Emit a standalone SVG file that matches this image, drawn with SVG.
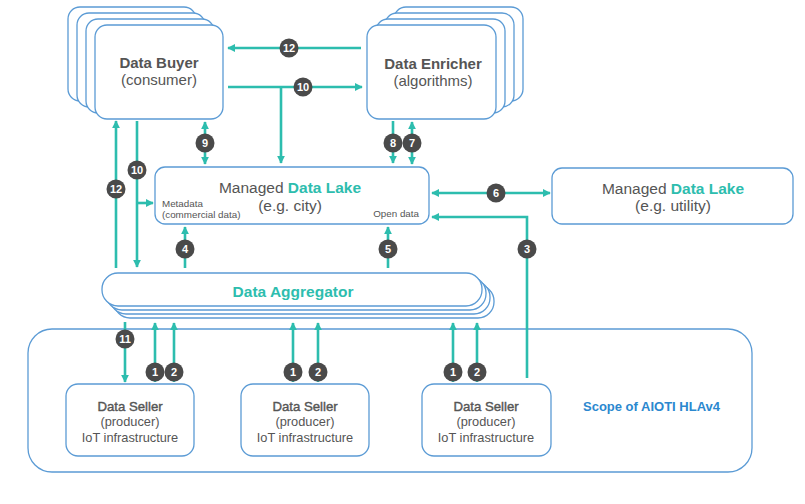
<svg xmlns="http://www.w3.org/2000/svg" width="805" height="504" viewBox="0 0 805 504">
<defs>
<marker id="ah" viewBox="0 0 10 10" refX="9" refY="5" markerWidth="8" markerHeight="8" markerUnits="userSpaceOnUse" orient="auto-start-reverse"><path d="M0,0 L10,5 L0,10 z" fill="#2dbdae"/></marker>
<style>
.box{fill:#fff;stroke:#5b9bd5;stroke-width:1.3}
.ln{fill:none;stroke:#2dbdae;stroke-width:2.6}
.t{font-family:"Liberation Sans",Arial,sans-serif;fill:#555;text-anchor:middle}
.b{font-weight:bold}
.sb{stroke:#555;stroke-width:0.4}
.tl{fill:#2dbdae;font-weight:bold}
.c{fill:#4a4a4a}
.ct{font-family:"Liberation Sans",Arial,sans-serif;fill:#fff;font-size:11px;font-weight:bold;text-anchor:middle}
</style>
</defs>
<rect width="805" height="504" fill="#fff"/>

<g id="scope">
<rect class="box" x="28" y="329" width="724" height="143" rx="24"/>
<text x="583" y="411" font-family="Liberation Sans,Arial,sans-serif" font-size="13" font-weight="bold" fill="#2b88cf">Scope of AIOTI HLAv4</text>
</g>

<g id="buyer">
<rect class="box" x="68" y="7" width="128" height="94" rx="12"/>
<rect class="box" x="77" y="13" width="128" height="94" rx="12"/>
<rect class="box" x="86" y="19" width="128" height="94" rx="12"/>
<rect class="box" x="95" y="25" width="128" height="94" rx="12"/>
<text class="t b" x="159" y="68" font-size="15">Data Buyer</text>
<text class="t" x="159" y="85" font-size="15">(consumer)</text>
</g>

<g id="enricher">
<rect class="box" x="394" y="7" width="129" height="94" rx="12"/>
<rect class="box" x="385" y="13" width="129" height="94" rx="12"/>
<rect class="box" x="376" y="19" width="129" height="94" rx="12"/>
<rect class="box" x="367" y="25" width="129" height="94" rx="12"/>
<text class="t b" x="433" y="69" font-size="15">Data Enricher</text>
<text class="t" x="433" y="86" font-size="15">(algorithms)</text>
</g>

<g id="lake-city">
<rect class="box" x="155" y="167" width="274" height="57" rx="10"/>
<text class="t" x="290" y="192.5" font-size="15.5">Managed <tspan class="tl">Data Lake</tspan></text>
<text class="t" x="290" y="210.5" font-size="15.5">(e.g. city)</text>
<text class="t" x="162" y="206.5" font-size="9.8" style="text-anchor:start">Metadata</text>
<text class="t" x="162" y="217.5" font-size="9.8" style="text-anchor:start">(commercial data)</text>
<text class="t" x="419" y="216.5" font-size="9.8" style="text-anchor:end">Open data</text>
</g>

<g id="lake-utility">
<rect class="box" x="552" y="168" width="241" height="56" rx="10"/>
<text class="t" x="673" y="193.5" font-size="15.5">Managed <tspan class="tl">Data Lake</tspan></text>
<text class="t" x="673" y="210.5" font-size="15.5">(e.g. utility)</text>
</g>

<g id="aggregator">
<rect class="box" x="114" y="285" width="380" height="33" rx="16"/>
<rect class="box" x="110" y="281" width="380" height="33" rx="16"/>
<rect class="box" x="106" y="277" width="380" height="33" rx="16"/>
<rect class="box" x="102" y="273" width="380" height="33" rx="16"/>
<text class="t tl" x="293" y="296.5" font-size="15.5">Data Aggregator</text>
</g>

<g id="seller1">
<rect class="box" x="66" y="384" width="128" height="72" rx="12"/>
<text class="t sb" x="130" y="410.5" font-size="13.2">Data Seller</text>
<text class="t" x="130" y="426" font-size="12.8">(producer)</text>
<text class="t" x="130" y="441.5" font-size="12.8">IoT infrastructure</text>
</g>
<g id="seller2">
<rect class="box" x="241" y="384" width="128" height="72" rx="12"/>
<text class="t sb" x="305" y="410.5" font-size="13.2">Data Seller</text>
<text class="t" x="305" y="426" font-size="12.8">(producer)</text>
<text class="t" x="305" y="441.5" font-size="12.8">IoT infrastructure</text>
</g>
<g id="seller3">
<rect class="box" x="422" y="384" width="129" height="72" rx="12"/>
<text class="t sb" x="486" y="410.5" font-size="13.2">Data Seller</text>
<text class="t" x="486" y="426" font-size="12.8">(producer)</text>
<text class="t" x="486" y="441.5" font-size="12.8">IoT infrastructure</text>
</g>

<g id="connectors">
<path class="ln" d="M361,48 H228" marker-end="url(#ah)"/>
<path class="ln" d="M228,87 H362" marker-end="url(#ah)"/>
<path class="ln" d="M281,87 V163" marker-end="url(#ah)"/>
<path class="ln" d="M116,268 V121" marker-end="url(#ah)"/>
<path class="ln" d="M137,121 V267" marker-end="url(#ah)"/>
<path class="ln" d="M137,203 H153" marker-end="url(#ah)"/>
<path class="ln" d="M205,122 V164" marker-start="url(#ah)" marker-end="url(#ah)"/>
<path class="ln" d="M393,121 V163" marker-end="url(#ah)"/>
<path class="ln" d="M412,122 V164" marker-start="url(#ah)" marker-end="url(#ah)"/>
<path class="ln" d="M432,193 H550" marker-start="url(#ah)" marker-end="url(#ah)"/>
<path class="ln" d="M527,378 V217 H432" marker-end="url(#ah)"/>
<path class="ln" d="M185,268 V227" marker-end="url(#ah)"/>
<path class="ln" d="M388,268 V227" marker-end="url(#ah)"/>
<path class="ln" d="M125,322 V382" marker-end="url(#ah)"/>
<path class="ln" d="M155,382 V323" marker-end="url(#ah)"/>
<path class="ln" d="M174,382 V323" marker-end="url(#ah)"/>
<path class="ln" d="M293,382 V323" marker-end="url(#ah)"/>
<path class="ln" d="M318,382 V323" marker-end="url(#ah)"/>
<path class="ln" d="M453,382 V323" marker-end="url(#ah)"/>
<path class="ln" d="M477,382 V323" marker-end="url(#ah)"/>

<circle class="c" cx="289" cy="48" r="9.5"/><text class="ct" x="289" y="52">12</text>
<circle class="c" cx="303" cy="87" r="9.5"/><text class="ct" x="303" y="91">10</text>
<circle class="c" cx="116" cy="189" r="9.5"/><text class="ct" x="116" y="193">12</text>
<circle class="c" cx="137" cy="170" r="9.5"/><text class="ct" x="137" y="174">10</text>
<circle class="c" cx="205" cy="143" r="9.5"/><text class="ct" x="205" y="147">9</text>
<circle class="c" cx="393" cy="143" r="9.5"/><text class="ct" x="393" y="147">8</text>
<circle class="c" cx="412" cy="143" r="9.5"/><text class="ct" x="412" y="147">7</text>
<circle class="c" cx="496" cy="193" r="9.5"/><text class="ct" x="496" y="197">6</text>
<circle class="c" cx="527" cy="249" r="9.5"/><text class="ct" x="527" y="253">3</text>
<circle class="c" cx="185" cy="249" r="9.5"/><text class="ct" x="185" y="253">4</text>
<circle class="c" cx="388" cy="249" r="9.5"/><text class="ct" x="388" y="253">5</text>
<circle class="c" cx="125" cy="339" r="9.5"/><text class="ct" x="125" y="343">11</text>
<circle class="c" cx="155" cy="372" r="9.5"/><text class="ct" x="155" y="376">1</text>
<circle class="c" cx="174" cy="372" r="9.5"/><text class="ct" x="174" y="376">2</text>
<circle class="c" cx="293" cy="372" r="9.5"/><text class="ct" x="293" y="376">1</text>
<circle class="c" cx="318" cy="372" r="9.5"/><text class="ct" x="318" y="376">2</text>
<circle class="c" cx="453" cy="372" r="9.5"/><text class="ct" x="453" y="376">1</text>
<circle class="c" cx="477" cy="372" r="9.5"/><text class="ct" x="477" y="376">2</text>
</g>
</svg>
